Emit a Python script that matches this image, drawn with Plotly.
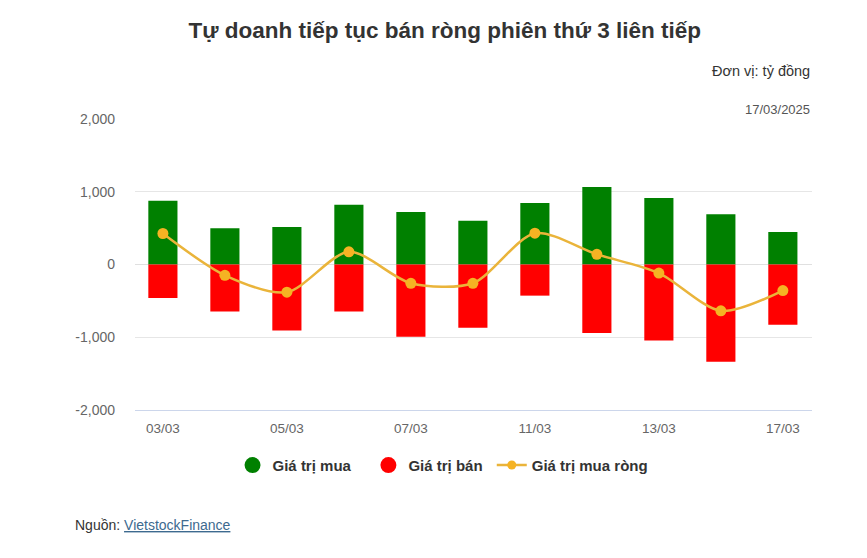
import plotly.graph_objects as go

dates = ["03/03", "04/03", "05/03", "06/03", "07/03", "10/03", "11/03", "12/03", "13/03", "14/03", "17/03"]
buy_values = [876, 500, 514, 821, 721, 601, 844, 1066, 913, 690, 447]
sell_values = [-462, -646, -908, -646, -992, -870, -428, -940, -1044, -1336, -827]
net_values = [426, -148, -380, 175, -258, -258, 430, 140, -118, -637, -358]
shown_ticks = ["03/03", "05/03", "07/03", "11/03", "13/03", "17/03"]
y_ticks = [-2000, -1000, 0, 1000, 2000]
y_tick_text = ["-2,000", "-1,000", "0", "1,000", "2,000"]

FONT = "Liberation Sans, Arial, sans-serif"
GREEN = "#008000"
RED = "#ff0000"
ORANGE = "#f5b323"
PAD3 = "\u00a0\u00a0\u00a0"
PAD1 = "\u00a0"

fig = go.Figure()
fig.add_trace(go.Bar(x=dates, y=buy_values, name="Giá trị mua", marker=dict(color=GREEN, line=dict(width=0)),
                     showlegend=False))
fig.add_trace(go.Bar(x=dates, y=sell_values, name="Giá trị bán", marker=dict(color=RED, line=dict(width=0)),
                     showlegend=False))
fig.add_trace(go.Scatter(x=dates, y=net_values, name="Giá trị mua ròng", mode="lines+markers",
                         line=dict(color="#eab43a", width=2.5, shape="spline", smoothing=0.8),
                         marker=dict(color=ORANGE, size=11), showlegend=False))
# legend-only entries
fig.add_trace(go.Scatter(x=[None], y=[None], mode="markers", name="<b>Giá trị mua</b>" + PAD3,
                         marker=dict(color=GREEN, size=16, symbol="circle")))
fig.add_trace(go.Scatter(x=[None], y=[None], mode="markers", name="<b>Giá trị bán</b>" + PAD1,
                         marker=dict(color=RED, size=16, symbol="circle")))
fig.add_trace(go.Scatter(x=[None], y=[None], mode="lines+markers", name="<b>Giá trị mua ròng</b>",
                         line=dict(color="#eab43a", width=2.5), marker=dict(color=ORANGE, size=9)))

fig.update_layout(
    width=867, height=558,
    paper_bgcolor="white", plot_bgcolor="white",
    margin=dict(l=135, r=55, t=119, b=148),
    barmode="relative", bargap=0.53,
    font=dict(family=FONT, color="#333"),
    title=dict(text="<b>Tự doanh tiếp tục bán ròng phiên thứ 3 liên tiếp</b>",
               x=0.513, xanchor="center", y=0.946, yanchor="middle",
               font=dict(size=22.5, color="#333", family=FONT)),
    xaxis=dict(type="category", range=[-0.45, 10.47], tickmode="array", tickvals=shown_ticks,
               ticktext=shown_ticks, showgrid=False, showline=True, linecolor="#ccd6eb", linewidth=1,
               ticks="", tickfont=dict(size=13.5, color="#666"), ticklabelstandoff=6, fixedrange=True),
    yaxis=dict(range=[-2000, 2000], tickmode="array", tickvals=y_ticks, ticktext=y_tick_text, showgrid=True,
               gridcolor="#e6e6e6", gridwidth=1, zeroline=True, zerolinecolor="#e0e0e0", zerolinewidth=1,
               tickfont=dict(size=14, color="#666"), ticklabelstandoff=19, fixedrange=True),
    legend=dict(orientation="h", x=0.455, xanchor="center", y=-0.19, yanchor="middle",
                font=dict(size=15, color="#333", family=FONT), itemsizing="trace",
                itemwidth=30, traceorder="normal"),
    annotations=[
        dict(text="Đơn vị: tỷ đồng", xref="paper", yref="paper", x=1.0, y=1.0, xanchor="right",
             yanchor="middle", yshift=119 - 71, showarrow=False,
             font=dict(size=14.5, color="#333")),
        dict(text="17/03/2025", xref="paper", yref="paper", x=1.0, y=1.0, xanchor="right",
             yanchor="middle", yshift=119 - 109, showarrow=False, font=dict(size=13, color="#555")),
        dict(text='Nguồn: <a href="https://finance.vietstock.vn" style="color:#3d6a8f"><span style="text-decoration:underline;color:#3d6a8f">VietstockFinance</span></a>',
             xref="paper", yref="paper", x=0, y=0, xanchor="left", yanchor="middle",
             xshift=73 - 135, yshift=-(525 - 410), showarrow=False,
             font=dict(size=14, color="#333")),
    ],
)

fig.write_html("out.html")
